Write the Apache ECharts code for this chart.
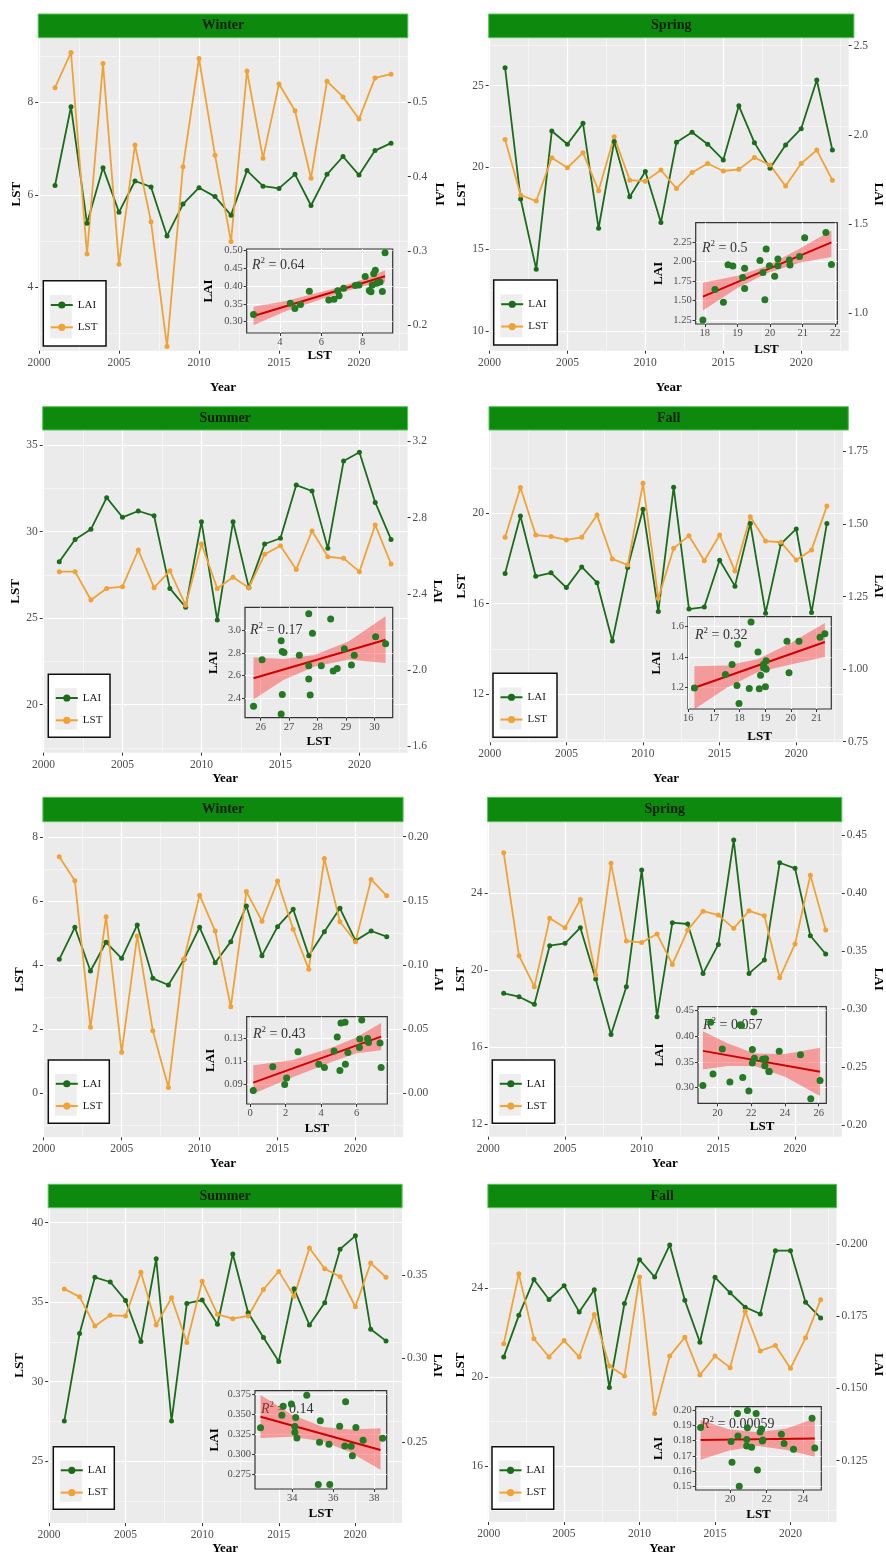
<!DOCTYPE html>
<html><head><meta charset="utf-8">
<script src="https://cdn.jsdelivr.net/npm/echarts@6/dist/echarts.min.js"></script>
<style>html,body{margin:0;padding:0;background:#fff}#c{width:886px;height:1556px}</style>
</head><body><div id="c"></div>
<script>
// ---------------- data ----------------
const years = [2001,2002,2003,2004,2005,2006,2007,2008,2009,2010,2011,2012,2013,2014,2015,2016,2017,2018,2019,2020,2021,2022];
const xTicks = [2000,2005,2010,2015,2020];
const xMinor = [2002.5,2007.5,2012.5,2017.5,2022.5];
const panelTitles = ['Winter','Spring','Summer','Fall','Winter','Spring','Summer','Fall'];
const r2Labels = ['0.64','0.5','0.17','0.32','0.43','0.057','0.14','0.00059'];

const p1LST = [8.32,9.08,4.72,8.84,4.50,7.08,5.42,2.72,6.61,8.95,6.86,4.99,8.68,6.79,8.40,7.82,6.36,8.46,8.12,7.64,8.53,8.61];
const p1LAI = [0.388,0.494,0.337,0.412,0.352,0.394,0.386,0.320,0.363,0.385,0.373,0.348,0.408,0.387,0.384,0.403,0.361,0.403,0.427,0.402,0.435,0.445];
const p2LST = [21.71,18.31,17.94,20.59,19.98,20.90,18.57,21.88,19.22,19.16,19.84,18.71,19.69,20.24,19.78,19.88,20.61,20.14,18.86,20.24,21.06,19.22];
const p2LAI = [2.377,1.641,1.247,2.022,1.948,2.065,1.477,1.963,1.654,1.795,1.509,1.959,2.015,1.948,1.860,2.163,1.957,1.813,1.944,2.035,2.308,1.916];
const p3LST = [27.69,27.69,26.05,26.72,26.82,28.94,26.76,27.74,25.75,29.29,26.72,27.36,26.76,28.69,29.19,27.82,30.04,28.55,28.46,27.69,30.39,28.13];
const p3LAI = [2.569,2.686,2.739,2.905,2.802,2.835,2.810,2.429,2.330,2.779,2.263,2.779,2.433,2.662,2.692,2.971,2.940,2.639,3.097,3.143,2.880,2.686];
const p4LST = [18.94,21.14,19.04,18.97,18.82,18.94,19.93,17.98,17.71,21.33,16.24,18.45,19.01,17.90,19.04,17.45,19.85,18.77,18.72,17.93,18.38,20.32];
const p4LAI = [1.330,1.528,1.320,1.332,1.281,1.352,1.298,1.097,1.350,1.551,1.199,1.627,1.207,1.214,1.375,1.286,1.502,1.193,1.432,1.483,1.195,1.502];
const p5LST = [7.38,6.63,2.06,5.51,1.28,4.91,1.95,0.18,4.19,6.18,5.06,2.70,6.29,5.37,6.62,5.12,3.87,7.32,5.35,4.73,6.67,6.16];
const p5LAI = [0.1044,0.1294,0.0953,0.1177,0.1052,0.1312,0.0896,0.0844,0.1044,0.1294,0.1018,0.1182,0.1460,0.1073,0.1299,0.1434,0.1073,0.1260,0.1442,0.1190,0.1265,0.1221];
const p6LST = [26.08,20.74,19.14,22.68,22.19,23.66,19.74,25.53,21.50,21.43,21.87,20.29,22.07,23.05,22.85,22.16,23.07,22.81,19.60,21.35,24.92,22.07];
const p6LAI = [0.3138,0.3109,0.3043,0.3549,0.3569,0.3704,0.3261,0.2784,0.3195,0.4201,0.2937,0.3747,0.3736,0.3310,0.3560,0.4460,0.3310,0.3425,0.4264,0.4216,0.3635,0.3477];
const p7LST = [35.83,35.33,33.50,34.17,34.13,36.87,33.56,35.27,32.46,36.31,34.23,33.96,34.13,35.79,36.93,35.37,38.40,37.10,36.60,34.71,37.45,36.56];
const p7LAI = [0.2626,0.3149,0.3485,0.3457,0.3347,0.3101,0.3596,0.2626,0.3329,0.3349,0.3204,0.3624,0.3273,0.3125,0.2982,0.3416,0.3200,0.3333,0.3653,0.3733,0.3174,0.3105];
const p8LST = [21.49,24.65,21.72,20.90,21.64,20.90,22.81,20.49,20.04,24.50,18.36,20.94,21.79,20.09,20.94,20.42,22.96,21.17,21.42,20.39,21.76,23.48];
const p8LAI = [0.1609,0.1753,0.1877,0.1808,0.1856,0.1765,0.1842,0.1503,0.1794,0.1946,0.1886,0.1997,0.1805,0.1660,0.1885,0.1831,0.1781,0.1758,0.1977,0.1977,0.1798,0.1744];

// regression line ends and confidence band
const p1FitX = [2.72,9.08];   const p1FitY = [0.316,0.428];
const p2FitX = [17.94,21.88]; const p2FitY = [1.549,2.249];
const p3FitX = [25.75,30.39]; const p3FitY = [2.576,2.914];
const p4FitX = [16.24,21.33]; const p4FitY = [1.200,1.497];
const p5FitX = [0.18,7.38];   const p5FitY = [0.0912,0.1315];
const p6FitX = [19.14,26.08]; const p6FitY = [0.371,0.3305];
const p7FitX = [32.46,38.30]; const p7FitY = [0.3467,0.3055];
const p8FitX = [18.36,24.65]; const p8FitY = [0.1805,0.1815];

const p1BandX = [2.72,4.3,7.0,8.3,9.08];      const p1BandLo = [0.290,0.330,0.383,0.404,0.411];  const p1BandHi = [0.342,0.358,0.399,0.425,0.445];
const p2BandX = [17.94,19.0,19.9,20.9,21.88]; const p2BandLo = [1.37,1.66,1.85,1.985,2.06];     const p2BandHi = [1.73,1.82,1.945,2.165,2.40];
const p3BandX = [25.75,26.8,27.9,29.1,30.39]; const p3BandLo = [2.39,2.56,2.68,2.74,2.71];      const p3BandHi = [2.76,2.745,2.78,2.90,3.12];
const p4BandX = [16.24,17.5,18.7,20.0,21.33]; const p4BandLo = [1.06,1.20,1.30,1.35,1.40];      const p4BandHi = [1.34,1.345,1.385,1.49,1.62];
const p5BandX = [0.18,2.4,4.7,6.0,7.38];      const p5BandLo = [0.0815,0.096,0.110,0.117,0.1195]; const p5BandHi = [0.1065,0.111,0.1225,0.131,0.1435];
const p6BandX = [19.14,20.6,22.2,24.0,26.08]; const p6BandLo = [0.335,0.342,0.342,0.321,0.284]; const p6BandHi = [0.409,0.386,0.366,0.365,0.377];
const p7BandX = [32.46,34.0,35.5,36.8,38.3];  const p7BandLo = [0.3204,0.322,0.316,0.303,0.2809]; const p7BandHi = [0.3738,0.349,0.334,0.331,0.3323];
const p8BandX = [18.36,19.9,21.5,23.1,24.65]; const p8BandLo = [0.1675,0.1735,0.1765,0.174,0.1695]; const p8BandHi = [0.1935,0.1875,0.1855,0.188,0.1945];

// tick labels
const lstTicks = [[4,6,8],[10,15,20,25],[20,25,30,35],[12,16,20],[0,2,4,6,8],[12,16,20,24],[25,30,35,40],[16,20,24]];
const lstMinor = [[3,5,7,9],[12.5,17.5,22.5,27.5],[17.5,22.5,27.5,32.5],[10,14,18,22],[-1,1,3,5,7],[14,18,22,26],[22.5,27.5,32.5,37.5],[14,18,22,26]];
const laiTicks = [[0.2,0.3,0.4,0.5],[1.0,1.5,2.0,2.5],[1.6,2.0,2.4,2.8,3.2],[0.75,1.00,1.25,1.50,1.75],[0,0.05,0.10,0.15,0.20],[0.20,0.25,0.30,0.35,0.40,0.45],[0.25,0.30,0.35],[0.125,0.150,0.175,0.200]];
const insetXTicks = [[4,6,8],[18,19,20,21,22],[26,27,28,29,30],[16,17,18,19,20,21],[0,2,4,6],[20,22,24,26],[34,36,38],[20,22,24]];
const insetYTicks = [[0.30,0.35,0.40,0.45,0.50],[1.25,1.50,1.75,2.00,2.25],[2.4,2.6,2.8,3.0],[1.2,1.4,1.6],[0.09,0.11,0.13],[0.30,0.35,0.40,0.45],[0.275,0.300,0.325,0.350,0.375],[0.15,0.16,0.17,0.18,0.19,0.20]];

// ---------------- layout (positions / ranges) ----------------
const layout = [
 {g:[38.2,37.7,407.8,350.7], lst:[2.63,9.40], lai:[0.1655,0.587], laiDec:1, strip:[14,37.7], lstGap:12, laiGap:25, yearGap:30,
  ins:[246.7,249,392.7,333], ix:[2.39,9.45], iy:[0.268,0.5048], iyDec:2, ixGap:15.5, iyGap:32, r2:[252,265], leg:[43.3,280.7,62.7,65.3]},
 {g:[488.7,37.7,853.9,350.7], lst:[8.78,27.94], lai:[0.791,2.545], laiDec:1, strip:[14,37.7], lstGap:19, laiGap:19.3, yearGap:30,
  ins:[695.7,222.7,837.3,324], ix:[17.72,22.06], iy:[1.197,2.502], iyDec:2, ixGap:19.5, iyGap:31, r2:[702,248], leg:[493.7,280,63.6,65]},
 {g:[42.7,430,407.6,752.7], lst:[17.22,35.88], lai:[1.567,3.260], laiDec:1, strip:[406.7,430], lstGap:16, laiGap:22.6, yearGap:19,
  ins:[245,607.3,392.7,717.7], ix:[25.45,30.64], iy:[2.230,3.199], iyDec:1, ixGap:17.5, iyGap:25, r2:[250,630], leg:[48.3,674.3,61.7,63]},
 {g:[489,430,848.3,742.3], lst:[9.86,23.69], lai:[0.748,1.824], laiDec:2, strip:[406.7,430], lstGap:19.5, laiGap:28, yearGap:29.5,
  ins:[688,616.7,831.3,709], ix:[15.99,21.58], iy:[1.062,1.661], iyDec:1, ixGap:21, iyGap:25, r2:[695,635], leg:[493,673.3,64,64]},
 {g:[42.9,821.7,403.1,1137.3], lst:[-1.37,8.47], lai:[-0.0343,0.2117], laiDec:2, strip:[797.3,821.7], lstGap:16.4, laiGap:27, yearGap:19.5,
  ins:[246.7,1016.7,387.3,1104], ix:[-0.19,7.73], iy:[0.0725,0.149], iyDec:2, ixGap:17.8, iyGap:30, r2:[253,1034], leg:[48.3,1060,61,63.3]},
 {g:[487.6,821.7,841.8,1136.7], lst:[11.36,27.69], lai:[0.1902,0.4618], laiDec:2, strip:[797.3,821.7], lstGap:19.8, laiGap:29.7, yearGap:20,
  ins:[698,1006.7,826.3,1103.3], ix:[18.85,26.45], iy:[0.2697,0.4564], iyDec:2, ixGap:17, iyGap:32, r2:[703,1025], leg:[492.3,1060,62.4,63.3]},
 {g:[48.2,1207.7,402.1,1525], lst:[21.12,40.93], lai:[0.2016,0.3901], laiDec:2, strip:[1184.3,1207.7], lstGap:21.7, laiGap:28, yearGap:18.5,
  ins:[255,1390.7,386.7,1489], ix:[32.19,38.6], iy:[0.257,0.379], iyDec:3, ixGap:18.5, iyGap:33.5, r2:[261,1409], leg:[53.3,1446.7,61,62.6]},
 {g:[487.9,1207.7,836.5,1523.3], lst:[13.47,27.62], lai:[0.1037,0.2126], laiDec:3, strip:[1184.3,1207.7], lstGap:18.4, laiGap:35, yearGap:20,
  ins:[695.7,1406.7,821.3,1490], ix:[18.09,25.01], iy:[0.1478,0.2022], iyDec:2, ixGap:18.5, iyGap:31, r2:[701,1424], leg:[492,1446.7,61.7,62.6]}
];

const panels = [
 {lst:p1LST, lai:p1LAI, fx:p1FitX, fy:p1FitY, bx:p1BandX, lo:p1BandLo, hi:p1BandHi},
 {lst:p2LST, lai:p2LAI, fx:p2FitX, fy:p2FitY, bx:p2BandX, lo:p2BandLo, hi:p2BandHi},
 {lst:p3LST, lai:p3LAI, fx:p3FitX, fy:p3FitY, bx:p3BandX, lo:p3BandLo, hi:p3BandHi},
 {lst:p4LST, lai:p4LAI, fx:p4FitX, fy:p4FitY, bx:p4BandX, lo:p4BandLo, hi:p4BandHi},
 {lst:p5LST, lai:p5LAI, fx:p5FitX, fy:p5FitY, bx:p5BandX, lo:p5BandLo, hi:p5BandHi},
 {lst:p6LST, lai:p6LAI, fx:p6FitX, fy:p6FitY, bx:p6BandX, lo:p6BandLo, hi:p6BandHi},
 {lst:p7LST, lai:p7LAI, fx:p7FitX, fy:p7FitY, bx:p7BandX, lo:p7BandLo, hi:p7BandHi},
 {lst:p8LST, lai:p8LAI, fx:p8FitX, fy:p8FitY, bx:p8BandX, lo:p8BandLo, hi:p8BandHi}
];

// ---------------- styles ----------------
const FONT = "'Liberation Serif','DejaVu Serif',serif";
const GREEN = '#1B6B1B', ORANGE = '#F0A236', PT = '#237A23';
const titleStyle = {fontFamily:FONT, fontWeight:'bold', fontSize:13, color:'#000'};
const tickLab = {fontFamily:FONT, fontSize:11.5, color:'#4D4D4D'};
const insetLab = {fontFamily:FONT, fontSize:10.5, color:'#4D4D4D'};

const option = {animation:false, backgroundColor:'#fff', grid:[], xAxis:[], yAxis:[], series:[], legend:[], graphic:[]};

panels.forEach((p, i) => {
  const L = layout[i];
  const gMain = option.grid.length;
  option.grid.push({left:L.g[0], top:L.g[1], width:L.g[2]-L.g[0], height:L.g[3]-L.g[1], show:true, backgroundColor:'#EBEBEB', borderWidth:0, z:0});
  const gIn = option.grid.length;
  option.grid.push({left:L.ins[0], top:L.ins[1], width:L.ins[2]-L.ins[0], height:L.ins[3]-L.ins[1], show:true, backgroundColor:'#EBEBEB', borderColor:'#333', borderWidth:1.2, z:3});

  const xi = option.xAxis.length;
  option.xAxis.push({type:'value', gridIndex:gMain, position:'bottom', min:1999.95, max:2023.05, z:1,
    axisLine:{show:false, onZero:false},
    axisTick:{show:true, length:3, lineStyle:{color:'#333'}, customValues:xTicks},
    axisLabel:{...tickLab, margin:6, customValues:xTicks, formatter:v=>String(v)},
    splitLine:{show:true, lineStyle:{color:'#fff', width:1.2}},
    name:'Year', nameLocation:'middle', nameGap:L.yearGap, nameTextStyle:titleStyle});
  option.xAxis.push({type:'value', gridIndex:gMain, position:'top', min:1999.95, max:2023.05, z:1,
    axisLine:{show:false, onZero:false}, axisTick:{show:false, customValues:xMinor}, axisLabel:{show:false},
    splitLine:{show:true, lineStyle:{color:'#fff', width:0.5}}});
  option.xAxis.push({type:'value', gridIndex:gIn, position:'bottom', min:L.ix[0], max:L.ix[1], z:4,
    axisLine:{show:false, onZero:false},
    axisTick:{show:true, length:3, lineStyle:{color:'#333'}, customValues:insetXTicks[i]},
    axisLabel:{...insetLab, margin:4, customValues:insetXTicks[i], formatter:v=>String(v)},
    splitLine:{show:true, lineStyle:{color:'#fff', width:1}},
    name:'LST', nameLocation:'middle', nameGap:L.ixGap, nameTextStyle:titleStyle});

  const yi = option.yAxis.length;
  option.yAxis.push({type:'value', gridIndex:gMain, position:'left', min:L.lst[0], max:L.lst[1], z:1,
    axisLine:{show:false, onZero:false},
    axisTick:{show:true, length:3, lineStyle:{color:'#333'}, customValues:lstTicks[i]},
    axisLabel:{...tickLab, margin:5, customValues:lstTicks[i], formatter:v=>String(v)},
    splitLine:{show:true, lineStyle:{color:'#fff', width:1.2}},
    name:'LST', nameLocation:'middle', nameGap:L.lstGap, nameTextStyle:titleStyle});
  option.yAxis.push({type:'value', gridIndex:gMain, position:'right', min:L.lai[0], max:L.lai[1], z:1,
    axisLine:{show:false, onZero:false},
    axisTick:{show:true, length:3, lineStyle:{color:'#333'}, customValues:laiTicks[i]},
    axisLabel:{...tickLab, margin:5, customValues:laiTicks[i], formatter:v=>v.toFixed(L.laiDec)},
    splitLine:{show:false},
    name:'LAI', nameLocation:'middle', nameRotate:-90, nameGap:L.laiGap, nameTextStyle:titleStyle});
  option.yAxis.push({type:'value', gridIndex:gMain, position:'left', min:L.lst[0], max:L.lst[1], z:1,
    axisLine:{show:false, onZero:false}, axisTick:{show:false, customValues:lstMinor[i]}, axisLabel:{show:false},
    splitLine:{show:true, lineStyle:{color:'#fff', width:0.5}}});
  option.yAxis.push({type:'value', gridIndex:gIn, position:'left', min:L.iy[0], max:L.iy[1], z:4,
    axisLine:{show:false, onZero:false},
    axisTick:{show:true, length:3, lineStyle:{color:'#333'}, customValues:insetYTicks[i]},
    axisLabel:{...insetLab, margin:4, customValues:insetYTicks[i], formatter:v=>v.toFixed(L.iyDec)},
    splitLine:{show:true, lineStyle:{color:'#fff', width:1}},
    name:'LAI', nameLocation:'middle', nameGap:L.iyGap, nameTextStyle:titleStyle});

  option.series.push({type:'line', name:'LAI', xAxisIndex:xi, yAxisIndex:yi+1, z:2, silent:true,
    data:years.map((y,k)=>[y,p.lai[k]]), symbol:'circle', symbolSize:5, showAllSymbol:true,
    itemStyle:{color:GREEN}, lineStyle:{color:GREEN, width:1.8}});
  option.series.push({type:'line', name:'LST', xAxisIndex:xi, yAxisIndex:yi, z:2, silent:true,
    data:years.map((y,k)=>[y,p.lst[k]]), symbol:'circle', symbolSize:5, showAllSymbol:true,
    itemStyle:{color:ORANGE}, lineStyle:{color:ORANGE, width:1.8}});
  option.series.push({type:'custom', name:'band'+i, xAxisIndex:xi+2, yAxisIndex:yi+3, z:5, silent:true,
    data:p.bx.map((x,k)=>[x,p.lo[k],p.hi[k]]),
    renderItem:(params, api) => {
      if (params.dataIndex !== 0) return {type:'group', children:[]};
      const up = p.bx.map((x,k)=>api.coord([x,p.hi[k]]));
      const dn = p.bx.map((x,k)=>api.coord([x,p.lo[k]])).reverse();
      return {type:'polygon', shape:{points:up.concat(dn)}, style:{fill:'rgba(255,45,45,0.42)'}};
    }});
  option.series.push({type:'line', name:'fit'+i, xAxisIndex:xi+2, yAxisIndex:yi+3, z:6, silent:true,
    data:[[p.fx[0],p.fy[0]],[p.fx[1],p.fy[1]]], symbol:'none', lineStyle:{color:'#D00000', width:2}});
  option.series.push({type:'scatter', name:'pts'+i, xAxisIndex:xi+2, yAxisIndex:yi+3, z:7, silent:true,
    data:p.lst.map((v,k)=>[v,p.lai[k]]), symbolSize:7, itemStyle:{color:PT, opacity:1}});

  // strip
  option.graphic.push({type:'rect', z:8, shape:{x:L.g[0], y:L.strip[0], width:L.g[2]-L.g[0], height:L.strip[1]-L.strip[0]},
    style:{fill:'#0D8A0D', stroke:'#55C455', lineWidth:1}});
  option.graphic.push({type:'text', z:9, x:(L.g[0]+L.g[2])/2, y:(L.strip[0]+L.strip[1])/2,
    style:{text:panelTitles[i], fontFamily:FONT, fontWeight:'bold', fontSize:14, fill:'#0F1F0F', align:'center', verticalAlign:'middle'}});
  // legend box
  const lg = L.leg;
  option.graphic.push({type:'rect', z:9, shape:{x:lg[0], y:lg[1], width:lg[2], height:lg[3]}, style:{fill:'#fff', stroke:'#111', lineWidth:1.5}});
  option.graphic.push({type:'rect', z:9, shape:{x:lg[0]+6.5, y:lg[1]+lg[3]*0.22, width:22, height:lg[3]*0.66}, style:{fill:'#EEEEEE'}});
  option.legend.push({show:true, orient:'vertical', left:lg[0]+6.5, top:lg[1]+lg[3]*0.265, padding:0, itemGap:8.3,
    itemWidth:22, itemHeight:9, selectedMode:false, z:10, data:['LAI','LST'],
    textStyle:{fontFamily:FONT, fontSize:11, color:'#1A1A1A', lineHeight:14}});
  // R2 label
  option.graphic.push({type:'text', z:5, x:L.r2[0], y:L.r2[1],
    style:{text:'{i|R}{s|2}{n| = '+r2Labels[i]+'}', fill:'#333', align:'left', verticalAlign:'middle',
      rich:{i:{fontFamily:FONT, fontStyle:'italic', fontSize:14, lineHeight:18, fill:'#333'},
            s:{fontFamily:FONT, fontSize:9, lineHeight:10, verticalAlign:'top', fill:'#333'},
            n:{fontFamily:FONT, fontSize:14, lineHeight:18, fill:'#333'}}}});
});

const chart = echarts.init(document.getElementById('c'), null, {renderer:'canvas'});
chart.setOption(option);
</script></body></html>
